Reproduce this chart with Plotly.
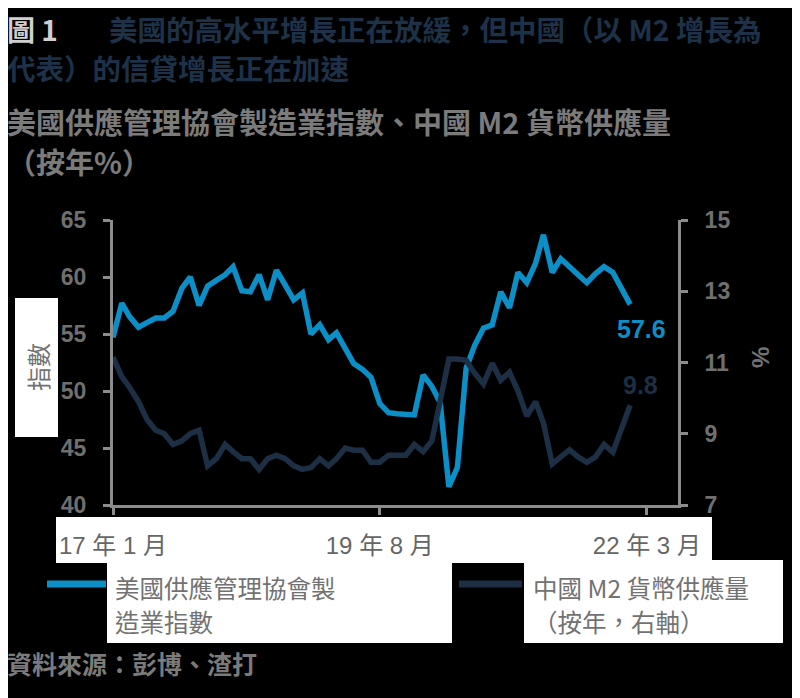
import plotly.graph_objects as go
import pandas as pd

# ---- data (monthly, Jan 2017 - Jan 2022) ----
months = pd.date_range("2017-01-01", periods=61, freq="MS")
ism_pmi = [54.7, 57.7, 56.5, 55.6, 56.0, 56.4, 56.4, 57.0, 59.0, 60.0,
           57.5, 59.2, 59.7, 60.2, 60.9, 58.8, 58.7, 60.2, 58.0, 60.6,
           59.3, 58.0, 58.6, 55.0, 55.8, 54.5, 55.1, 53.8, 52.4, 51.9,
           51.2, 48.9, 48.1, 48.0, 47.9, 47.9, 51.4, 50.4, 49.0, 41.6,
           43.3, 52.0, 54.0, 55.5, 55.8, 58.7, 57.3, 60.4, 59.5, 61.2,
           63.7, 60.4, 61.6, 60.9, 60.2, 59.5, 60.3, 60.9, 60.4, 59.0,
           57.6]
china_m2 = [11.15, 10.6, 10.3, 9.9, 9.4, 9.1, 9.0, 8.7, 8.8, 9.0,
            9.1, 8.1, 8.3, 8.7, 8.5, 8.3, 8.3, 8.0, 8.3, 8.4,
            8.3, 8.1, 8.0, 8.05, 8.3, 8.1, 8.3, 8.6, 8.54, 8.54,
            8.2, 8.2, 8.4, 8.4, 8.4, 8.7, 8.5, 8.8, 10.0, 11.1,
            11.1, 11.06, 10.7, 10.4, 10.98, 10.5, 10.73, 10.2, 9.5, 9.9,
            9.3, 8.15, 8.35, 8.55, 8.35, 8.2, 8.35, 8.7, 8.48, 9.1,
            9.8]
x_tickvals = ["2017-01-01", "2019-08-01", "2022-03-01"]
x_ticktext = ["17 年 1 月", "19 年 8 月", "22 年 3 月"]
left_ticks = [40, 45, 50, 55, 60, 65]
right_ticks = [7, 9, 11, 13, 15]
name_pmi = "美國供應管理協會製造業指數"
name_m2 = "中國 M2 貨幣供應量（按年，右軸）"
legend_pmi_lines = ["美國供應管理協會製", "造業指數"]
legend_m2_lines = ["中國 M2 貨幣供應量", "（按年，右軸）"]

BLUE = "#0b8fc6"
NAVY = "#1c2f44"
GRAY_AX = "#8c8c8c"
GRAY_TXT = "#727272"
CJK = "Noto Sans CJK TC"
NUM = "Liberation Sans, Noto Sans CJK TC"

# page offset (browser body margin) compensation
OFF = 8
W, H = 800 - OFF, 698 - OFF
# plot area in page pixels: x 113..678, y 220..505
L, R, T, B = 113 - OFF, 800 - 678, 220 - OFF, 698 - 505
PW, PH = W - L - R, H - T - B


def px(xp):
    return (xp - OFF - L) / PW


def py(yp):
    return (H - B - (yp - OFF)) / PH


fig = go.Figure()
fig.add_trace(go.Scatter(x=months, y=ism_pmi, name=name_pmi, mode="lines",
                         line=dict(color=BLUE, width=5.5), yaxis="y"))
fig.add_trace(go.Scatter(x=months, y=china_m2, name=name_m2, mode="lines",
                         line=dict(color=NAVY, width=5.5), yaxis="y2"))

axis_common = dict(showgrid=False, zeroline=False, showline=True,
                   linecolor=GRAY_AX, linewidth=3, ticks="outside",
                   tickcolor=GRAY_AX, tickwidth=3, ticklen=7)

fig.update_layout(
    width=W, height=H,
    margin=dict(l=L, r=R, t=T, b=B, autoexpand=False),
    paper_bgcolor="black", plot_bgcolor="black",
    showlegend=False,
    xaxis=dict(**axis_common, type="date",
               range=["2017-01-01", "2022-06-19"],
               tickvals=x_tickvals, ticktext=x_ticktext,
               ticklabelstandoff=10,
               tickfont=dict(family=NUM, size=24, color="#666666")),
    yaxis=dict(**axis_common, range=[40, 65], tickvals=left_ticks,
               ticklabelstandoff=12,
               tickfont=dict(family=NUM, size=23, color="#6f6f6f", weight="bold")),
    yaxis2=dict(**axis_common, range=[7, 15], tickvals=right_ticks,
                overlaying="y", side="right", ticklabelstandoff=12,
                tickfont=dict(family=NUM, size=23, color="#6f6f6f", weight="bold")),
)

shapes = []


def white_box(x0, y0, x1, y1):
    shapes.append(dict(type="rect", xref="paper", yref="paper",
                       x0=px(x0), x1=px(x1), y0=py(y1), y1=py(y0),
                       fillcolor="white", line=dict(width=0), layer="below"))


white_box(15, 298, 58, 437)      # y-axis title box
white_box(56, 517, 712, 563)     # x tick label box
white_box(107, 563, 452, 643)    # legend 1 box
white_box(524, 560, 783, 643)    # legend 2 box

# legend samples
shapes.append(dict(type="line", xref="paper", yref="paper",
                   x0=px(47), x1=px(106), y0=py(584), y1=py(584),
                   line=dict(color=BLUE, width=7)))
shapes.append(dict(type="line", xref="paper", yref="paper",
                   x0=px(459), x1=px(522), y0=py(584), y1=py(584),
                   line=dict(color=NAVY, width=7)))
fig.update_layout(shapes=shapes)

ann = []


def text(xp, yp, s, size, color, xanchor="left", bold=False, angle=0,
         family=CJK, align="left"):
    ann.append(dict(xref="paper", yref="paper", x=px(xp), y=py(yp),
                    text=(f"<b>{s}</b>" if bold else s), showarrow=False,
                    xanchor=xanchor, yanchor="middle", textangle=angle,
                    align=align, borderpad=0,
                    font=dict(family=family, size=size, color=color)))


# titles
text(6, 29, "圖 1", 28, "#cfcfcf", bold=True)
text(108, 29, "美國的高水平增長正在放緩，但中國（以 M2 增長為", 28.5, "#1d3148", bold=True)
text(6, 67, "代表）的信貸增長正在加速", 28.5, "#1d3148", bold=True)
text(6, 121, "美國供應管理協會製造業指數、中國 M2 貨幣供應量", 29, "#7b7b7b", bold=True)
text(6, 161, "（按年%）", 29, "#7b7b7b", bold=True)

# axis titles
text(37, 367, "指數", 24, GRAY_TXT, xanchor="center", angle=-90)
text(760, 358, "%", 24, GRAY_TXT, xanchor="center", angle=-90, bold=True, family=NUM)

# end labels
text(641, 329, f"{ism_pmi[-1]:.1f}", 25, BLUE, xanchor="center", bold=True, family=NUM)
text(640, 385, f"{china_m2[-1]:.1f}", 25, NAVY, xanchor="center", bold=True, family=NUM)

# legend text
text(114, 587, legend_pmi_lines[0], 24.5, GRAY_TXT)
text(114, 621, legend_pmi_lines[1], 24.5, GRAY_TXT)
text(532, 587, legend_m2_lines[0], 24.5, GRAY_TXT)
text(532, 621, legend_m2_lines[1], 24.5, GRAY_TXT)

# source
text(6, 663, "資料來源：彭博、渣打", 25, "#7b7b7b", bold=True)

fig.update_layout(annotations=ann)
fig.write_html("out.html")
